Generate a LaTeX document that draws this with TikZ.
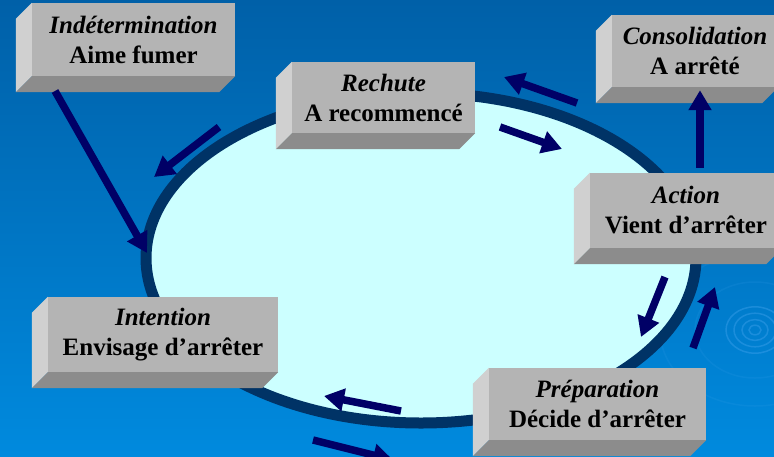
\documentclass[tikz,border=0pt]{standalone}
\usepackage{fontspec}
\setmainfont{Liberation Serif}
\usepackage{tikz}
\usetikzlibrary{arrows.meta, positioning}
\definecolor{bgtop}{RGB}{0, 96, 168}
\definecolor{bgbottom}{RGB}{0, 138, 222}
\definecolor{ringblue}{RGB}{60, 160, 235}
\definecolor{cyclefill}{RGB}{204, 255, 255}
\definecolor{cycleline}{RGB}{0, 51, 102}
\definecolor{arrownavy}{RGB}{0, 0, 102}
\definecolor{faceFront}{RGB}{180, 180, 180}
\definecolor{faceLeft}{RGB}{208, 208, 208}
\definecolor{faceBottom}{RGB}{140, 140, 140}

\begin{document}
\begin{tikzpicture}[
    x=1pt, y=-1pt,
    stage/.style={fill=faceFront, inner sep=0pt, align=center,
        font=\fontsize{25}{30}\selectfont\bfseries},
    flow/.style={-{Triangle[length=20pt, width=22pt]}, line width=7.5pt, arrownavy},
    ring/.style={ringblue, line width=1.5pt, opacity=0.45}
]
    \useasboundingbox (0,0) rectangle (774,456);
    \clip (0,0) rectangle (774,456);

    % Background
    \shade[top color=bgtop, bottom color=bgbottom] (0,0) rectangle (774,456);
    \foreach \r in {6,13,21,29}
        \draw[ring] (755,330) ellipse [x radius=\r pt, y radius=0.8*\r pt];
    \foreach \r in {60,95}
        \draw[ring, opacity=0.15] (755,330) ellipse [x radius=\r pt, y radius=0.8*\r pt];

    % Cycle
    \draw[cycleline, fill=cyclefill, line width=11pt] (421,258) ellipse [x radius=275pt, y radius=165pt];

    % Stages (front faces)
    \node[stage, minimum width=203pt, minimum height=73pt] (indet) at (133.5,39.5)
        {\textit{Indétermination}\\Aime fumer};
    \node[stage, minimum width=183pt, minimum height=71pt] (rech) at (383.5,97.5)
        {\textit{Rechute}\\A recommencé};
    \node[stage, minimum width=166pt, minimum height=72pt] (cons) at (695,51)
        {\textit{Consolidation}\\A arrêté};
    \node[stage, minimum width=192pt, minimum height=75pt] (act) at (686,210.5)
        {\textit{Action}\\Vient d’arrêter};
    \node[stage, minimum width=230pt, minimum height=75pt] (inten) at (163,334.5)
        {\textit{Intention}\\Envisage d’arrêter};
    \node[stage, minimum width=217pt, minimum height=72pt] (prep) at (597.5,404)
        {\textit{Préparation}\\Décide d’arrêter};

    % Side faces
    \foreach \b in {indet,rech,cons,act,inten,prep} {
        \fill[faceLeft] (\b.north west) -- ([shift={(-16pt,-16pt)}]\b.north west)
            -- ([shift={(-16pt,-16pt)}]\b.south west) -- (\b.south west) -- cycle;
        \fill[faceBottom] (\b.south west) -- ([shift={(-16pt,-16pt)}]\b.south west)
            -- ([shift={(-16pt,-16pt)}]\b.south east) -- (\b.south east) -- cycle;
    }

    % Arrow ends
    \coordinate (c1) at (55,91);    \coordinate (c2) at (147,253);
    \coordinate (c3) at (219,127);  \coordinate (c4) at (154,177);
    \coordinate (c5) at (500,127);  \coordinate (c6) at (562,149);
    \coordinate (c7) at (577,103);  \coordinate (c8) at (504,77);
    \coordinate (c9) at (665,277);  \coordinate (c10) at (641,337);
    \coordinate (c11) at (693,348); \coordinate (c12) at (715,287);
    \coordinate (c13) at (401,411); \coordinate (c14) at (324,396);
    \coordinate (c15) at (313,440); \coordinate (c16) at (393,460);

    % Arrows
    \draw[flow] (c1) -- (c2);
    \draw[flow] (c3) -- (c4);
    \draw[flow] (c5) -- (c6);
    \draw[flow] (c7) -- (c8);
    \draw[flow] ([xshift=14pt, yshift=5pt]act.north) -- ([xshift=5pt, yshift=-3pt]cons.south);
    \draw[flow] (c9) -- (c10);
    \draw[flow] (c11) -- (c12);
    \draw[flow] (c13) -- (c14);
    \draw[flow] (c15) -- (c16);
\end{tikzpicture}
\end{document}
